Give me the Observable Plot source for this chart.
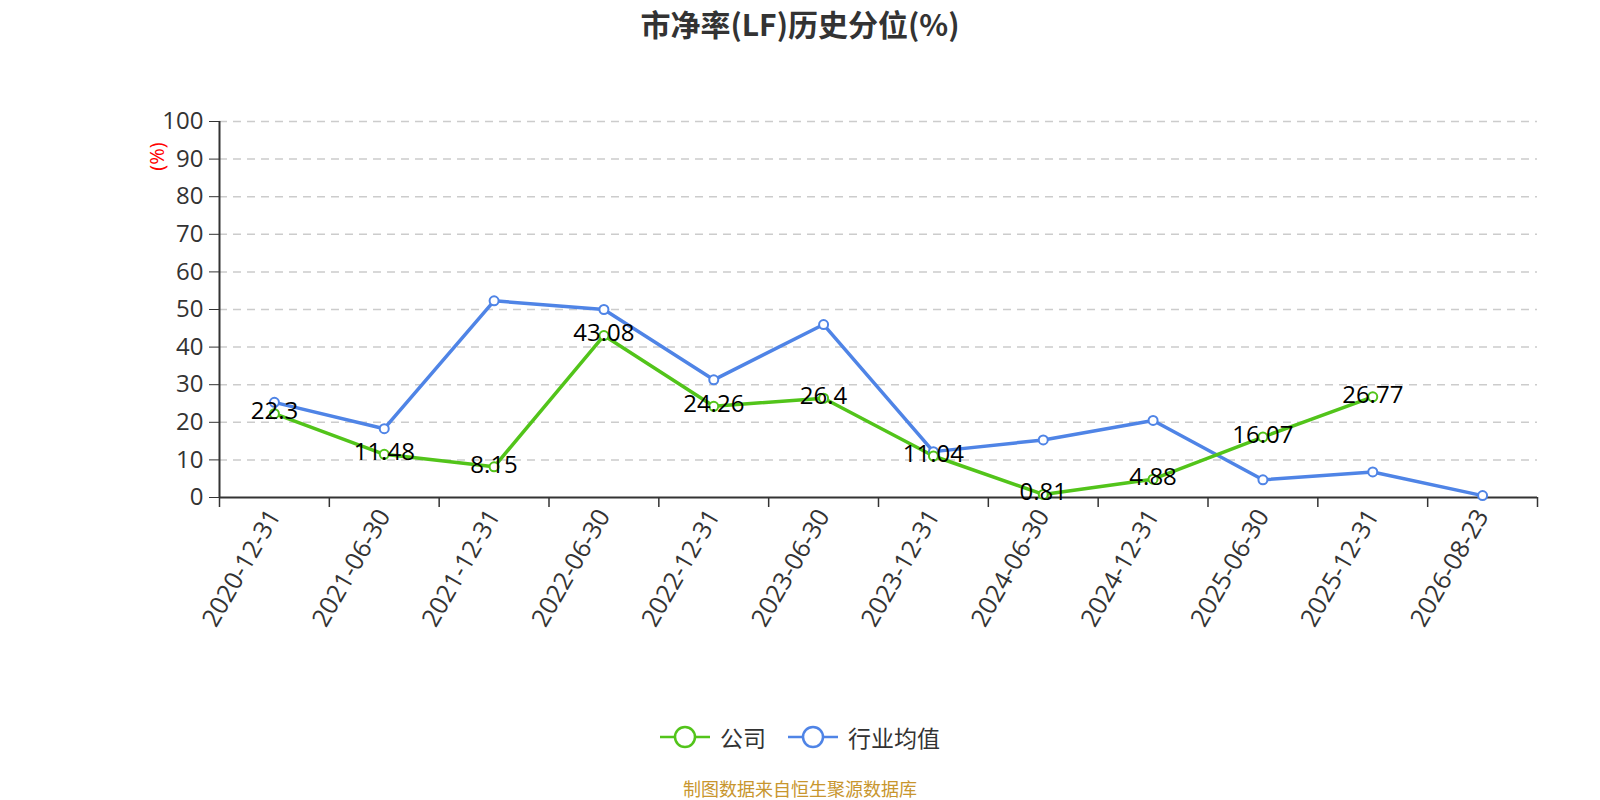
<!DOCTYPE html>
<html>
<head>
<meta charset="utf-8">
<script src="https://cdn.jsdelivr.net/npm/d3@7"></script>
<script src="https://cdn.jsdelivr.net/npm/@observablehq/plot@0.6"></script>
<style>
  html, body { margin: 0; padding: 0; background: #fff; width: 1600px; height: 800px; overflow: hidden; }
  body { font-family: "Open Sans", "Noto Sans CJK SC", sans-serif; }
  #title { height: 50px; line-height: 46px; text-align: center; font-size: 30px; font-weight: bold; color: #333;
           font-family: "Noto Sans CJK SC", "Open Sans", sans-serif; }
  #legend { height: 54px; display: flex; justify-content: center; align-items: center; gap: 22px;
            font-family: "Noto Sans CJK SC", sans-serif; font-size: 23px; color: #333; }
  .item { display: flex; align-items: center; gap: 10px; }
  #caption { height: 36px; line-height: 48px; text-align: center; font-size: 18px; color: #c8962e;
             font-family: "Noto Sans CJK SC", sans-serif; }
</style>
</head>
<body>
<div id="title">市净率(LF)历史分位(%)</div>
<div id="chart"></div>
<div id="legend"></div>
<div id="caption">制图数据来自恒生聚源数据库</div>
<script>
const dates = ["2020-12-31","2021-06-30","2021-12-31","2022-06-30","2022-12-31","2023-06-30","2023-12-31","2024-06-30","2024-12-31","2025-06-30","2025-12-31","2026-08-23"];
const company = [22.3, 11.48, 8.15, 43.08, 24.26, 26.4, 11.04, 0.81, 4.88, 16.07, 26.77, null];
const industry = [25.3, 18.3, 52.3, 50.0, 31.3, 46.0, 12.2, 15.3, 20.5, 4.7, 6.8, 0.5];
const yTicks = [0, 10, 20, 30, 40, 50, 60, 70, 80, 90, 100];
const seriesNames = ["公司", "行业均值"];
const colors = ["#52c41a", "#4f84e6"];

const compData = company.map((v, i) => ({i, v})).filter(d => d.v != null);
const indData = industry.map((v, i) => ({i, v}));
const bounds = d3.range(dates.length + 1).map(k => k - 0.5);

const chart = Plot.plot({
  width: 1600,
  height: 660,
  marginTop: 71,
  marginBottom: 213,
  marginLeft: 219,
  marginRight: 63,
  style: {fontFamily: '"Open Sans", "Noto Sans CJK SC", sans-serif', background: "#fff"},
  x: {type: "linear", domain: [-0.5, dates.length - 0.5]},
  y: {domain: [0, 100]},
  marks: [
    Plot.ruleY(yTicks.filter(t => t > 0), {stroke: "#ccc", strokeWidth: 1.5, strokeDasharray: "8,6"}),
    Plot.axisY({ticks: yTicks, tickSize: 10, tickPadding: 6, fontSize: 24, color: "#333", label: null, tickFormat: d => String(d)}),
    Plot.axisX({ticks: bounds, tickSize: 10, tickFormat: () => "", label: null, color: "#333", strokeWidth: 1.5}),
    Plot.axisX({ticks: d3.range(dates.length), tickSize: 0, tickPadding: 14, tickRotate: -60, fontSize: 25, color: "#333",
                tickFormat: i => dates[i], label: null}),
    Plot.ruleX([-0.5], {y1: 0, y2: 100, stroke: "#333", strokeWidth: 2}),
    Plot.ruleY([0], {stroke: "#333", strokeWidth: 2}),
    Plot.line(indData, {x: "i", y: "v", stroke: colors[1], strokeWidth: 3.5}),
    Plot.line(compData, {x: "i", y: "v", stroke: colors[0], strokeWidth: 3.5}),
    Plot.dot(indData, {x: "i", y: "v", r: 4.5, fill: "#fff", stroke: colors[1], strokeWidth: 2}),
    Plot.dot(compData, {x: "i", y: "v", r: 4.5, fill: "#fff", stroke: colors[0], strokeWidth: 2}),
    Plot.text(compData, {x: "i", y: "v", text: d => String(d.v), fontSize: 24, fill: "#000", dy: -2, lineAnchor: "middle"}),
    Plot.text(["(%)"], {frameAnchor: "top-left", dx: -62, dy: 35, rotate: -90, fill: "red", fontSize: 20,
                        textAnchor: "middle", lineAnchor: "middle"})
  ]
});
document.getElementById("chart").appendChild(chart);

const legend = document.getElementById("legend");
seriesNames.forEach((name, k) => {
  const item = document.createElement("div");
  item.className = "item";
  item.innerHTML = `<svg width="50" height="26" viewBox="0 0 50 26"><line x1="0" y1="13" x2="50" y2="13" stroke="${colors[k]}" stroke-width="2.5"/><circle cx="25" cy="13" r="10" fill="#fff" stroke="${colors[k]}" stroke-width="2.5"/></svg><span>${name}</span>`;
  legend.appendChild(item);
});
</script>
</body>
</html>
